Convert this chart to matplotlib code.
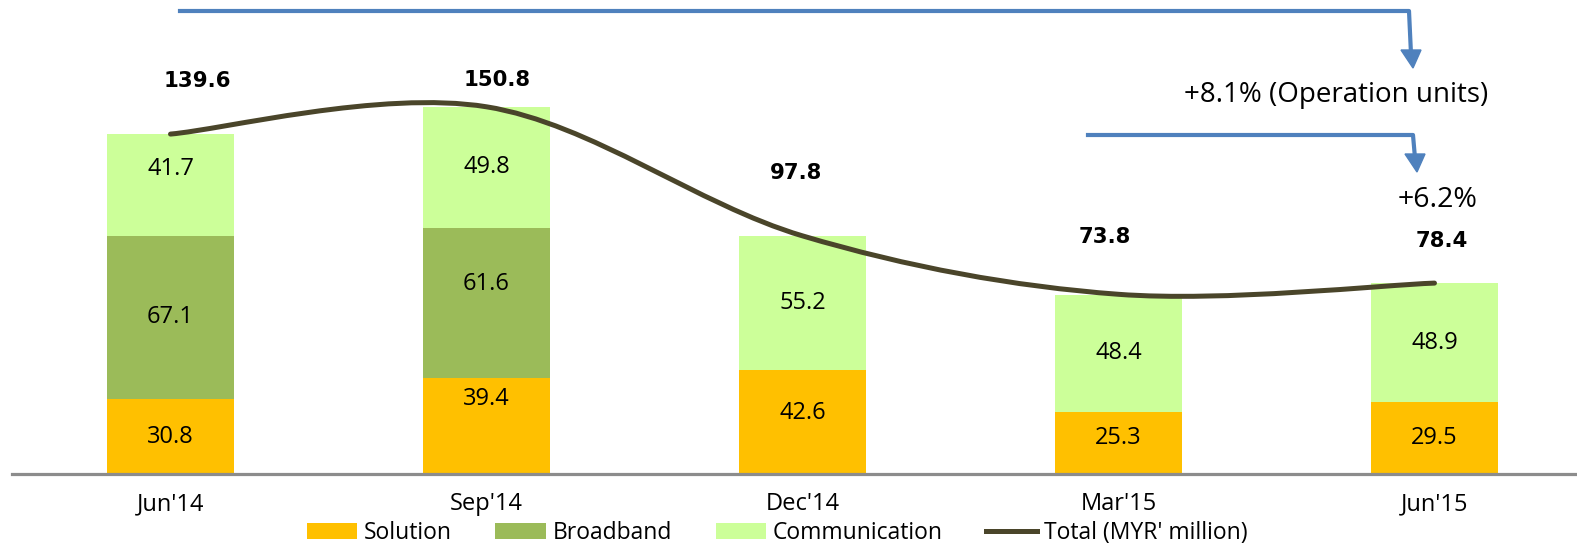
import numpy as np
import matplotlib
matplotlib.use("Agg")
import matplotlib.pyplot as plt
from matplotlib.path import Path
from matplotlib.patches import PathPatch, Polygon, Patch
from matplotlib.lines import Line2D

# ---- data ----
categories = ["Jun'14", "Sep'14", "Dec'14", "Mar'15", "Jun'15"]
solution = [30.8, 39.4, 42.6, 25.3, 29.5]
broadband = [67.1, 61.6, 0.0, 0.0, 0.0]
communication = [41.7, 49.8, 55.2, 48.4, 48.9]
totals = [139.6, 150.8, 97.8, 73.8, 78.4]
series_names = ["Solution", "Broadband", "Communication"]
total_name = "Total (MYR' million)"
note_top = "+8.1% (Operation units)"
note_bottom = "+6.2%"

# ---- style ----
W, H, DPI = 1577, 549, 100
col_sol = "#FFC000"
col_bb = "#9BBB59"
col_com = "#CCFF99"
col_line = "#4A452A"
col_arrow = "#4F81BD"
FONT = ["Open Sans", "DejaVu Sans"]

# pixel offsets (upward) for in-bar labels: per category [sol, bb, com]
seg_label_dy = [[0, 0, 16], [27, 19, 0], [9, 0, 0], [5, 0, 0], [0, 0, 0]]
# pixel offsets for total labels (dx, dy)
tot_label_off = [(27, 53), (11, 27), (-6, 63), (-14, 57), (7, 42)]

fig = plt.figure(figsize=(W / DPI, H / DPI), dpi=DPI)
base_y = 474
px_per_unit = 2.435
ax = fig.add_axes([12 / W, (H - base_y) / H, (W - 12) / W, base_y / H])
ax.set_xlim(-0.5016, 4.451)
ax.set_ylim(0, base_y / px_per_unit)

x = np.arange(len(categories))
bw = 0.402
sol = np.array(solution)
bb = np.array(broadband)
com = np.array(communication)
ax.bar(x, sol, bw, color=col_sol, zorder=2)
ax.bar(x, bb, bw, bottom=sol, color=col_bb, zorder=2)
ax.bar(x, com, bw, bottom=sol + bb, color=col_com, zorder=2)

# in-bar labels
for i in range(len(x)):
    bottoms = [0, sol[i], sol[i] + bb[i]]
    vals = [sol[i], bb[i], com[i]]
    for k in range(3):
        if vals[k] <= 0:
            continue
        ax.annotate(f"{vals[k]:.1f}", (x[i], bottoms[k] + vals[k] / 2),
                    xytext=(0, seg_label_dy[i][k]), textcoords="offset pixels",
                    ha="center", va="center", fontsize=17, family=FONT,
                    color="black", zorder=5)

# smoothed total line (Catmull-Rom style Bezier like Excel)
pts = np.column_stack([x, np.array(totals)])
n = len(pts)
verts = [pts[0]]
codes = [Path.MOVETO]
for i in range(n - 1):
    p0 = pts[i - 1] if i > 0 else pts[i]
    p1 = pts[i]
    p2 = pts[i + 1]
    p3 = pts[i + 2] if i + 2 < n else pts[i + 1]
    c1 = p1 + (p2 - p0) / 6
    c2 = p2 - (p3 - p1) / 6
    verts += [c1, c2, p2]
    codes += [Path.CURVE4] * 3
ax.add_patch(PathPatch(Path(verts, codes), fill=False, edgecolor=col_line,
                       lw=3.6, capstyle="round", zorder=4))

# total labels
for i in range(n):
    ax.annotate(f"{totals[i]:.1f}", (x[i], totals[i]),
                xytext=tot_label_off[i], textcoords="offset pixels",
                ha="center", va="center", fontsize=15.3, fontweight="bold",
                family="DejaVu Sans", color="black", zorder=5)

# axes styling
for s in ["top", "right", "left"]:
    ax.spines[s].set_visible(False)
ax.spines["bottom"].set_color("#8C8C8C")
ax.spines["bottom"].set_linewidth(2.3)
ax.set_yticks([])
ax.set_xticks(x)
ax.set_xticklabels(categories, fontsize=17, family=FONT, color="black")
ax.tick_params(axis="x", length=0, pad=13)

# arrows & notes (figure pixel coordinates)
def fp(px, py):
    return (px / W, 1 - py / H)

def bent_arrow(x0, y0, xc, tip_y):
    p = [fp(x0, y0), fp(xc, y0), fp(xc + 2, tip_y - 14)]
    fig.add_artist(Line2D([q[0] for q in p], [q[1] for q in p],
                          transform=fig.transFigure, color=col_arrow, lw=3.0,
                          solid_joinstyle="round"))
    head = [fp(xc - 8, tip_y - 18), fp(xc + 12, tip_y - 18), fp(xc + 4, tip_y)]
    fig.add_artist(Polygon(head, closed=True, transform=fig.transFigure,
                           facecolor=col_arrow, edgecolor=col_arrow))

bent_arrow(180, 11, 1409, 68)
bent_arrow(1088, 135, 1413, 172)

fig.text(*fp(1336, 95), note_top, ha="center", va="center", fontsize=20,
         family=FONT, color="black")
fig.text(*fp(1438, 200), note_bottom, ha="center", va="center", fontsize=20.5,
         family=FONT, color="black")

# legend
handles = [Patch(facecolor=col_sol, edgecolor="none"),
           Patch(facecolor=col_bb, edgecolor="none"),
           Patch(facecolor=col_com, edgecolor="none"),
           Line2D([0], [0], color=col_line, lw=3.6)]
labels = series_names + [total_name]
fig.legend(handles, labels, loc="center", bbox_to_anchor=fp(777, 533), ncol=4,
           frameon=False, prop={"family": FONT, "size": 16.5},
           handlelength=2.2, handleheight=0.75, handletextpad=0.3,
           columnspacing=1.9, borderpad=0)

fig.savefig("out.png", dpi=DPI)
